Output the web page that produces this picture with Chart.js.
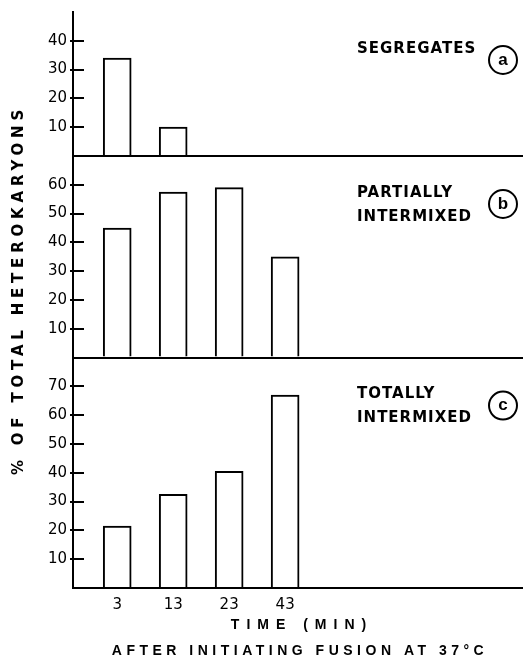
<!DOCTYPE html>
<html>
<head>
<meta charset="utf-8">
<script src="https://cdn.jsdelivr.net/npm/chart.js@4.4.1/dist/chart.umd.min.js"></script>
<style>
  html, body { margin: 0; padding: 0; background: #fff; }
  #wrap { width: 523px; height: 663px; }
</style>
</head>
<body>
<div id="wrap"><canvas id="chart"></canvas></div>
<script>
// time after initiating fusion (min), one bar per time in every panel
const timeLabels = ['3', '13', '23', '43'];

// % of total heterokaryons
const segregates = [34, 10, null, null];
const partiallyIntermixed = [45, 57.5, 59, 35];
const totallyIntermixed = [21.5, 32.5, 40.5, 67];

const panelMax = [50, 70, 80];
const panelNames = [['SEGREGATES'], ['PARTIALLY', 'INTERMIXED'], ['TOTALLY', 'INTERMIXED']];
const panelLetters = ['a', 'b', 'c'];

const FONT = "'Liberation Sans', Arial, sans-serif";
const HEAVY = "'DejaVu Sans', sans-serif";

function points(values) {
    return values.map((v, i) => ({x: i, y: v}));
}

function panelAxis(max, weight) {
    return {
        type: 'linear',
        position: 'left',
        stack: 'panels',
        stackWeight: weight,
        min: 0,
        max: max,
        afterFit: s => { s.width = 73; },
        ticks: {
            stepSize: 10,
            autoSkip: false,
            color: '#000',
            padding: 3,
            font: {family: "'DejaVu Sans', sans-serif", size: 15},
            callback: v => (v === max ? null : (v === 0 ? '' : v))
        },
        grid: {
            drawOnChartArea: true,
            drawTicks: true,
            tickLength: 3,
            lineWidth: 2,
            tickWidth: 2,
            color: c => (c.tick && c.tick.value === max ? 'rgba(0,0,0,0)' : '#000'),
            tickColor: c => (c.tick && (c.tick.value === 0 || c.tick.value === max) ? 'rgba(0,0,0,0)' : '#000')
        },
        border: {
            display: true,
            color: '#000',
            width: 2,
            // short dash = tick mark pointing into the plot, solid line at 0 = panel baseline
            dash: c => (c.tick && c.tick.value === 0 ? [] : [10, 2000])
        }
    };
}

const barStyle = {
    backgroundColor: '#fff',
    borderColor: '#000',
    borderWidth: 2,
    borderSkipped: 'bottom',
    barThickness: 28,
    grouped: false
};

const textPlugin = {
    id: 'panelText',
    afterDraw(chart) {
        const ctx = chart.ctx;
        const area = chart.chartArea;
        const axes = [chart.scales.yA, chart.scales.yB, chart.scales.yC];
        ctx.save();
        ctx.fillStyle = '#000';
        ctx.strokeStyle = '#000';

        // panel names and circled letters
        axes.forEach((axis, p) => {
            ctx.font = 'bold 15px ' + HEAVY;
            ctx.letterSpacing = '1px';
            ctx.textAlign = 'left';
            ctx.textBaseline = 'middle';
            panelNames[p].forEach((line, k) => {
                ctx.fillText(line, area.right - 166, axis.top + 37 + k * 24);
            });
            const cx = area.right - 20;
            const cy = axis.top + 48;
            ctx.lineWidth = 2;
            ctx.beginPath();
            ctx.arc(cx, cy, 14, 0, Math.PI * 2);
            ctx.stroke();
            ctx.letterSpacing = '0px';
            ctx.font = 'bold 17px ' + FONT;
            ctx.textAlign = 'center';
            ctx.fillText(panelLetters[p], cx, cy);
        });

        // y title
        ctx.save();
        ctx.translate(19, (area.top + area.bottom) / 2 - 10);
        ctx.rotate(-Math.PI / 2);
        ctx.font = 'bold 15px ' + HEAVY;
        ctx.letterSpacing = '4.8px';
        ctx.textAlign = 'center';
        ctx.textBaseline = 'middle';
        ctx.fillText('% OF TOTAL HETEROKARYONS', 0, 0);
        ctx.restore();

        // x titles
        const mid = (area.left + area.right) / 2;
        ctx.font = 'bold 14px ' + FONT;
        ctx.textAlign = 'center';
        ctx.textBaseline = 'middle';
        ctx.letterSpacing = '7px';
        ctx.fillText('TIME (MIN)', mid + 4, area.bottom + 37);
        ctx.letterSpacing = '4.5px';
        ctx.fillText('AFTER INITIATING FUSION AT 37°C', mid + 2, area.bottom + 63);
        ctx.restore();
    }
};

const ctx = document.getElementById('chart').getContext('2d');

new Chart(ctx, {
    type: 'bar',
    data: {
        datasets: [
            Object.assign({label: 'Totally intermixed', data: points(totallyIntermixed), yAxisID: 'yC'}, barStyle),
            Object.assign({label: 'Partially intermixed', data: points(partiallyIntermixed), yAxisID: 'yB'}, barStyle),
            Object.assign({label: 'Segregates', data: points(segregates), yAxisID: 'yA'}, barStyle)
        ]
    },
    options: {
        responsive: true,
        maintainAspectRatio: false,
        animation: false,
        layout: {padding: {top: 12, left: 0, right: 0, bottom: 0}},
        plugins: {legend: {display: false}, tooltip: {enabled: false}},
        scales: {
            x: {
                type: 'linear',
                offset: false,
                min: -0.79,
                max: 7.25,
                afterBuildTicks: s => { s.ticks = timeLabels.map((_, i) => ({value: i})); },
                afterFit: s => { s.height = 75; },
                ticks: {
                    color: '#000',
                    padding: 0,
                    autoSkip: false,
                    maxRotation: 0,
                    font: {family: "'DejaVu Sans', sans-serif", size: 15},
                    callback: v => timeLabels[v]
                },
                grid: {display: false, offset: false},
                border: {display: true, color: '#000', width: 2}
            },
            yC: panelAxis(panelMax[2], 8),
            yB: panelAxis(panelMax[1], 7),
            yA: panelAxis(panelMax[0], 5)
        }
    },
    plugins: [textPlugin]
});
</script>
</body>
</html>
